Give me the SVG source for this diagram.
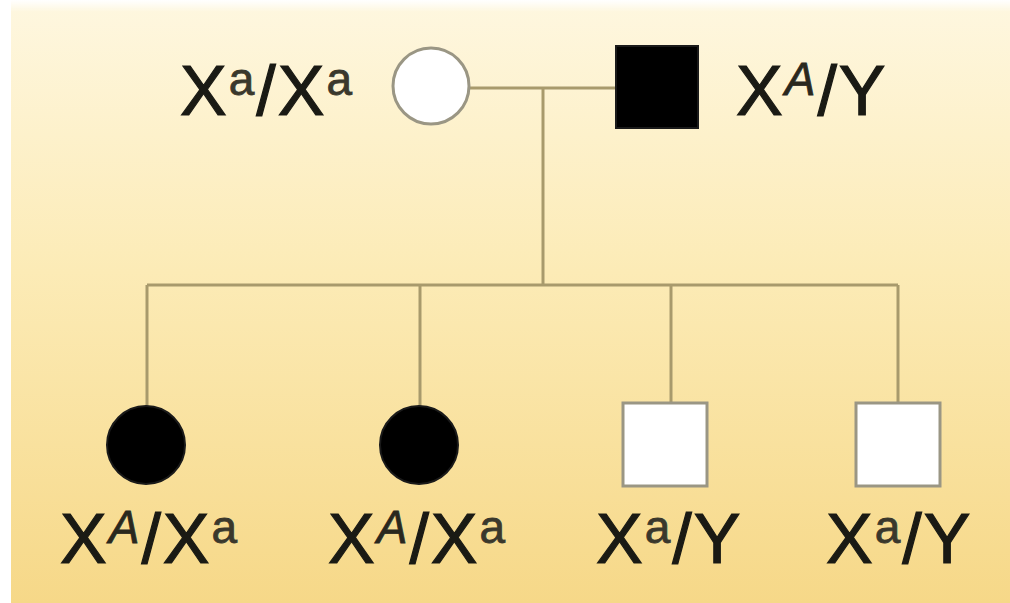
<svg xmlns="http://www.w3.org/2000/svg" width="1010" height="603" viewBox="0 0 1010 603">
  <defs>
    <linearGradient id="bg" x1="0" y1="0" x2="0" y2="1">
      <stop offset="0" stop-color="#fef7e0"/>
      <stop offset="0.45" stop-color="#fcebb6"/>
      <stop offset="1" stop-color="#f6d888"/>
    </linearGradient>
    <linearGradient id="topfade" x1="0" y1="0" x2="0" y2="1">
      <stop offset="0" stop-color="#ffffff" stop-opacity="1"/>
      <stop offset="1" stop-color="#ffffff" stop-opacity="0"/>
    </linearGradient>
  </defs>
  <style>
    .line { stroke: #a89a6c; stroke-width: 3; fill: none; }
    .open { fill: #ffffff; stroke: #9a9684; stroke-width: 3; }
    .filled { fill: #000000; stroke: #1a1a1a; stroke-width: 2; }
    .lbl { font-family: "Liberation Sans", Arial, sans-serif; font-size: 70px; fill: #1a1a14; stroke: #1a1a14; stroke-width: 1.2; letter-spacing: 2px; }
    .sup { font-size: 46px; fill: #3a382c; stroke: #3a382c; stroke-width: 0.8; }
    .supA { font-size: 46px; font-style: italic; fill: #2a281e; stroke: #2a281e; stroke-width: 0.8; }
  </style>
  <rect x="0" y="0" width="1010" height="603" fill="#ffffff"/>
  <rect x="11" y="0" width="999" height="603" fill="url(#bg)"/>
  <rect x="11" y="0" width="999" height="12" fill="url(#topfade)"/>

  <g id="connectors">
    <line class="line" x1="470" y1="88" x2="616" y2="88"/>
    <line class="line" x1="543" y1="88" x2="543" y2="285"/>
    <line class="line" x1="147" y1="285" x2="898" y2="285"/>
    <line class="line" x1="147" y1="285" x2="147" y2="406"/>
    <line class="line" x1="420" y1="285" x2="420" y2="406"/>
    <line class="line" x1="671" y1="285" x2="671" y2="403"/>
    <line class="line" x1="898" y1="285" x2="898" y2="403"/>
  </g>

  <g id="mother">
    <circle class="open" cx="431" cy="86" r="38"/>
    <text class="lbl" x="180" y="115">X<tspan class="sup" dy="-20">a</tspan><tspan dy="20">/X</tspan><tspan class="sup" dy="-20">a</tspan></text>
  </g>
  <g id="father">
    <rect class="filled" x="616" y="46" width="82" height="82"/>
    <text class="lbl" x="736" y="115">X<tspan class="supA" dy="-20">A</tspan><tspan dy="20">/Y</tspan></text>
  </g>
  <g id="daughter1">
    <circle class="filled" cx="146" cy="445" r="39"/>
    <text class="lbl" x="60" y="563">X<tspan class="supA" dy="-20">A</tspan><tspan dy="20">/X</tspan><tspan class="sup" dy="-20">a</tspan></text>
  </g>
  <g id="daughter2">
    <circle class="filled" cx="419" cy="445" r="39"/>
    <text class="lbl" x="328" y="563">X<tspan class="supA" dy="-20">A</tspan><tspan dy="20">/X</tspan><tspan class="sup" dy="-20">a</tspan></text>
  </g>
  <g id="son1">
    <rect class="open" x="623" y="403" width="84" height="83"/>
    <text class="lbl" x="596" y="563">X<tspan class="sup" dy="-20">a</tspan><tspan dy="20">/Y</tspan></text>
  </g>
  <g id="son2">
    <rect class="open" x="856" y="403" width="84" height="83"/>
    <text class="lbl" x="826" y="563">X<tspan class="sup" dy="-20">a</tspan><tspan dy="20">/Y</tspan></text>
  </g>
</svg>
